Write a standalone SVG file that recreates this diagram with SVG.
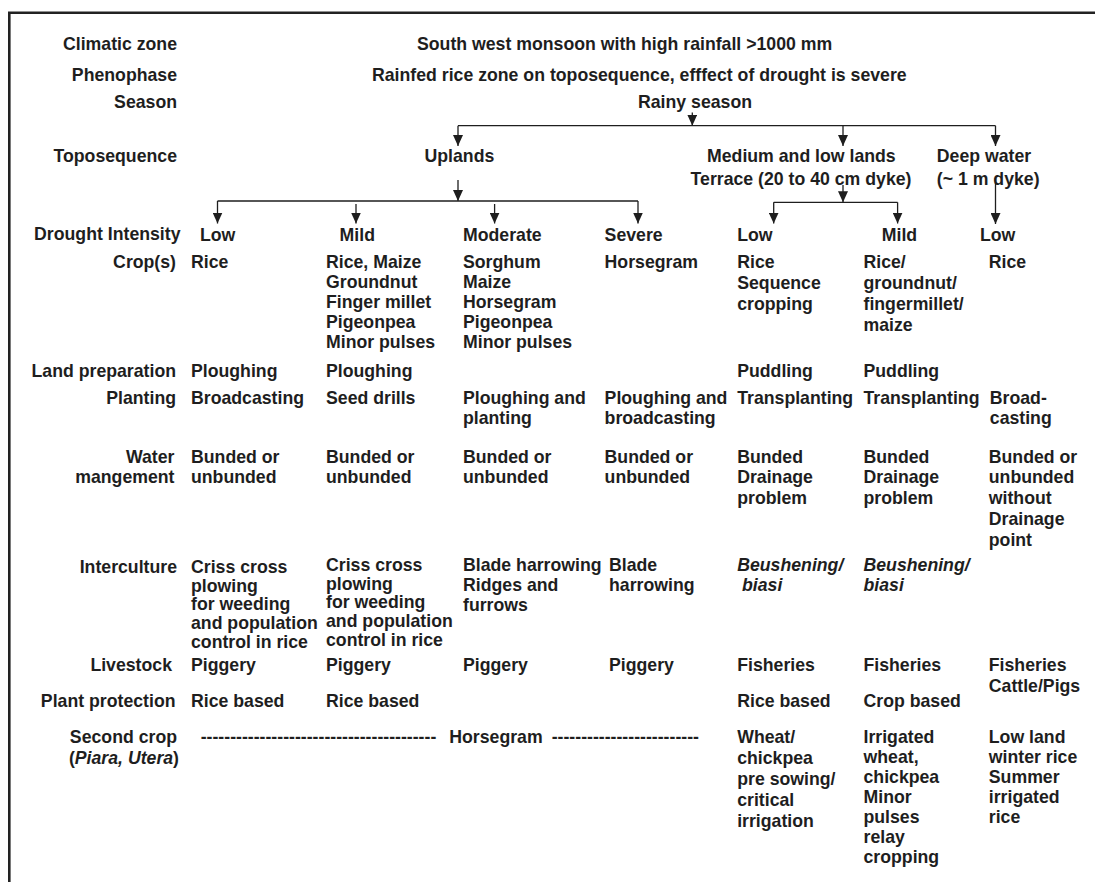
<svg xmlns="http://www.w3.org/2000/svg" width="1095" height="882" viewBox="0 0 1095 882">
  <defs>
    <style>
      .t { font-family: "Liberation Sans", Arial, Helvetica, sans-serif; font-weight: bold; font-size: 17.7px; fill: #1e1e1e; }
      .r { text-anchor: end; }
      .i { font-style: italic; }
      .ln { fill: none; stroke: #1e1e1e; stroke-width: 1.3; }
      .arr { fill: none; stroke: #1e1e1e; stroke-width: 1.3; marker-end: url(#head); }
    </style>
    <marker id="head" viewBox="0 0 11 10" refX="11" refY="5" markerWidth="11" markerHeight="10" markerUnits="userSpaceOnUse" orient="auto">
      <path d="M0,0 L11,5 L0,10 Z" fill="#1e1e1e"/>
    </marker>
  </defs>

  <rect width="1095" height="882" fill="#ffffff"/>

  <!-- open frame: top and left edges -->
  <path d="M9.3,882 V12.7 H1095" fill="none" stroke="#222" stroke-width="2.6"/>

  <!-- row labels -->
  <g id="row-labels">
    <text class="t r" x="177" y="50">Climatic zone</text>
    <text class="t r" x="177" y="81">Phenophase</text>
    <text class="t r" x="177" y="108">Season</text>
    <text class="t r" x="177" y="162">Toposequence</text>
    <text class="t r" x="180.5" y="240">Drought Intensity</text>
    <text class="t r" x="176" y="268">Crop(s)</text>
    <text class="t r" x="176" y="377">Land preparation</text>
    <text class="t r" x="176" y="403.5">Planting</text>
    <text class="t r" x="174.5" y="462.5">Water<tspan x="174.5" dy="20.8">mangement</tspan></text>
    <text class="t r" x="177" y="573">Interculture</text>
    <text class="t r" x="172" y="671">Livestock</text>
    <text class="t r" x="175.5" y="706.5">Plant protection</text>
    <text class="t r" x="177" y="743">Second crop<tspan x="179" dy="20.5">(<tspan class="i">Piara, Utera</tspan>)</tspan></text>
  </g>

  <!-- header nodes -->
  <g id="climatic-zone"><text class="t" x="417" y="50">South west monsoon with high rainfall &gt;1000 mm</text></g>
  <g id="phenophase"><text class="t" x="372" y="81">Rainfed rice zone on toposequence, efffect of drought is severe</text></g>
  <g id="rainy-season"><text class="t" x="638" y="108">Rainy season</text></g>

  <!-- toposequence nodes -->
  <g id="uplands"><text class="t" x="424.5" y="162">Uplands</text></g>
  <g id="medium-low-lands"><text class="t" x="707" y="162">Medium and low lands</text><text class="t" x="690.6" y="185">Terrace (20 to 40 cm dyke)</text></g>
  <g id="deep-water"><text class="t" x="936.8" y="162">Deep water</text><text class="t" x="936.8" y="185">(~ 1 m dyke)</text></g>

  <!-- drought intensity nodes -->
  <g id="up-low"><text class="t" x="200" y="240.5">Low</text></g>
  <g id="up-mild"><text class="t" x="339.6" y="240.5">Mild</text></g>
  <g id="up-moderate"><text class="t" x="463" y="240.5">Moderate</text></g>
  <g id="up-severe"><text class="t" x="604.6" y="240.5">Severe</text></g>
  <g id="ml-low"><text class="t" x="737.2" y="240.5">Low</text></g>
  <g id="ml-mild"><text class="t" x="881.8" y="240.5">Mild</text></g>
  <g id="dw-low"><text class="t" x="980" y="240.5">Low</text></g>

  <!-- column 1: uplands, low -->
  <g id="col-up-low">
    <text class="t" x="191" y="268">Rice</text>
    <text class="t" x="191" y="377">Ploughing</text>
    <text class="t" x="191" y="403.5">Broadcasting</text>
    <text class="t" x="191" y="462.5">Bunded or<tspan x="191" dy="20.8">unbunded</tspan></text>
    <text class="t" x="191" y="573">Criss cross<tspan x="191" dy="18.7">plowing</tspan><tspan x="191" dy="18.7">for weeding</tspan><tspan x="191" dy="18.7">and population</tspan><tspan x="191" dy="18.7">control in rice</tspan></text>
    <text class="t" x="191" y="671">Piggery</text>
    <text class="t" x="191" y="706.5">Rice based</text>
  </g>

  <!-- column 2: uplands, mild -->
  <g id="col-up-mild">
    <text class="t" x="326" y="268">Rice, Maize<tspan x="326" dy="20">Groundnut</tspan><tspan x="326" dy="20">Finger millet</tspan><tspan x="326" dy="20">Pigeonpea</tspan><tspan x="326" dy="20">Minor pulses</tspan></text>
    <text class="t" x="326" y="377">Ploughing</text>
    <text class="t" x="326" y="403.5">Seed drills</text>
    <text class="t" x="326" y="462.5">Bunded or<tspan x="326" dy="20.8">unbunded</tspan></text>
    <text class="t" x="326" y="571">Criss cross<tspan x="326" dy="18.7">plowing</tspan><tspan x="326" dy="18.7">for weeding</tspan><tspan x="326" dy="18.7">and population</tspan><tspan x="326" dy="18.7">control in rice</tspan></text>
    <text class="t" x="326" y="671">Piggery</text>
    <text class="t" x="326" y="706.5">Rice based</text>
  </g>

  <!-- column 3: uplands, moderate -->
  <g id="col-up-moderate">
    <text class="t" x="463" y="268">Sorghum<tspan x="463" dy="20">Maize</tspan><tspan x="463" dy="20">Horsegram</tspan><tspan x="463" dy="20">Pigeonpea</tspan><tspan x="463" dy="20">Minor pulses</tspan></text>
    <text class="t" x="463" y="403.5">Ploughing and<tspan x="463" dy="20">planting</tspan></text>
    <text class="t" x="463" y="462.5">Bunded or<tspan x="463" dy="20.8">unbunded</tspan></text>
    <text class="t" x="463" y="571">Blade harrowing<tspan x="463" dy="20">Ridges and</tspan><tspan x="463" dy="20">furrows</tspan></text>
    <text class="t" x="463" y="671">Piggery</text>
  </g>

  <!-- column 4: uplands, severe -->
  <g id="col-up-severe">
    <text class="t" x="604.6" y="268">Horsegram</text>
    <text class="t" x="604.6" y="403.5">Ploughing and<tspan x="604.6" dy="20">broadcasting</tspan></text>
    <text class="t" x="604.6" y="462.5">Bunded or<tspan x="604.6" dy="20.8">unbunded</tspan></text>
    <text class="t" x="609" y="571">Blade<tspan x="609" dy="20">harrowing</tspan></text>
    <text class="t" x="609" y="671">Piggery</text>
  </g>

  <!-- second crop across the uplands -->
  <g id="up-second-crop">
    <text class="t" x="200.7" y="743">----------------------------------------</text>
    <text class="t" x="449.3" y="743">Horsegram</text>
    <text class="t" x="551.7" y="743">-------------------------</text>
  </g>

  <!-- column 5: medium and low lands, low -->
  <g id="col-ml-low">
    <text class="t" x="737.2" y="268">Rice<tspan x="737.2" dy="21">Sequence</tspan><tspan x="737.2" dy="21">cropping</tspan></text>
    <text class="t" x="737.2" y="377">Puddling</text>
    <text class="t" x="737.2" y="403.5">Transplanting</text>
    <text class="t" x="737.2" y="462.5">Bunded<tspan x="737.2" dy="20.8">Drainage</tspan><tspan x="737.2" dy="20.8">problem</tspan></text>
    <text class="t i" x="737.2" y="571">Beushening/<tspan x="742" dy="20">biasi</tspan></text>
    <text class="t" x="737.2" y="671">Fisheries</text>
    <text class="t" x="737.2" y="706.5">Rice based</text>
    <text class="t" x="737.2" y="743">Wheat/<tspan x="737.2" dy="21">chickpea</tspan><tspan x="737.2" dy="21">pre sowing/</tspan><tspan x="737.2" dy="21">critical</tspan><tspan x="737.2" dy="21">irrigation</tspan></text>
  </g>

  <!-- column 6: medium and low lands, mild -->
  <g id="col-ml-mild">
    <text class="t" x="863.5" y="268">Rice/<tspan x="863.5" dy="21">groundnut/</tspan><tspan x="863.5" dy="21">fingermillet/</tspan><tspan x="863.5" dy="21">maize</tspan></text>
    <text class="t" x="863.5" y="377">Puddling</text>
    <text class="t" x="863.5" y="403.5">Transplanting</text>
    <text class="t" x="863.5" y="462.5">Bunded<tspan x="863.5" dy="20.8">Drainage</tspan><tspan x="863.5" dy="20.8">problem</tspan></text>
    <text class="t i" x="863.5" y="571">Beushening/<tspan x="863.5" dy="20">biasi</tspan></text>
    <text class="t" x="863.5" y="671">Fisheries</text>
    <text class="t" x="863.5" y="706.5">Crop based</text>
    <text class="t" x="863.5" y="743">Irrigated<tspan x="863.5" dy="20">wheat,</tspan><tspan x="863.5" dy="20">chickpea</tspan><tspan x="863.5" dy="20">Minor</tspan><tspan x="863.5" dy="20">pulses</tspan><tspan x="863.5" dy="20">relay</tspan><tspan x="863.5" dy="20">cropping</tspan></text>
  </g>

  <!-- column 7: deep water, low -->
  <g id="col-dw-low">
    <text class="t" x="988.8" y="268">Rice</text>
    <text class="t" x="989.8" y="403.5">Broad-<tspan x="989.8" dy="20">casting</tspan></text>
    <text class="t" x="988.8" y="462.5">Bunded or<tspan x="988.8" dy="20.8">unbunded</tspan><tspan x="988.8" dy="20.8">without</tspan><tspan x="988.8" dy="20.8">Drainage</tspan><tspan x="988.8" dy="20.8">point</tspan></text>
    <text class="t" x="988.8" y="671">Fisheries<tspan x="988.8" dy="20.5">Cattle/Pigs</tspan></text>
    <text class="t" x="988.8" y="743">Low land<tspan x="988.8" dy="20">winter rice</tspan><tspan x="988.8" dy="20">Summer</tspan><tspan x="988.8" dy="20">irrigated</tspan><tspan x="988.8" dy="20">rice</tspan></text>
  </g>

  <!-- connectors -->
  <g id="connectors">
    <!-- season to toposequence -->
    <path class="arr" d="M692.3,112.5 V125.7"/>
    <path class="ln" d="M458,125.7 H995.5"/>
    <path class="arr" d="M458,125.7 V146"/>
    <path class="arr" d="M843,125.7 V146"/>
    <path class="arr" d="M995.5,125.7 V146"/>
    <!-- uplands to drought intensity -->
    <path class="arr" d="M458,180 V201"/>
    <path class="ln" d="M217.5,201 H638"/>
    <path class="arr" d="M217.5,201 V223.5"/>
    <path class="arr" d="M356,204 V223.5"/>
    <path class="arr" d="M494.6,204 V223.5"/>
    <path class="arr" d="M638,201 V223.5"/>
    <!-- medium and low lands to drought intensity -->
    <path class="arr" d="M843,185 V202.3"/>
    <path class="ln" d="M773.7,202.3 H897.6"/>
    <path class="arr" d="M773.7,202.3 V223.5"/>
    <path class="arr" d="M897.6,202.3 V223.5"/>
    <!-- deep water to drought intensity -->
    <path class="arr" d="M995.5,178 V224"/>
  </g>
</svg>
